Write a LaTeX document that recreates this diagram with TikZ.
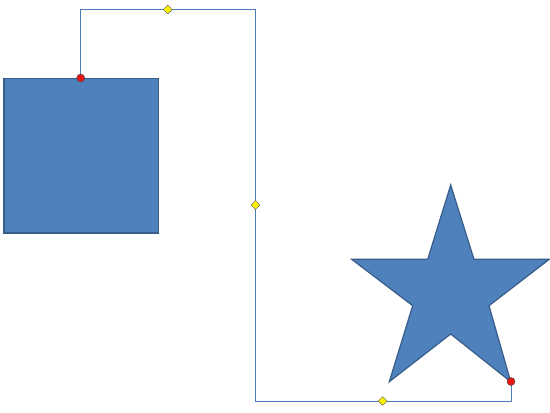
\documentclass[tikz,border=0pt]{standalone}
\usetikzlibrary{shapes.geometric}
\definecolor{shapefill}{HTML}{4F81BD}
\definecolor{shapeline}{HTML}{385D8A}
\definecolor{conn}{HTML}{4A7EBB}
\definecolor{dotred}{HTML}{E81818}
\begin{document}
\begin{tikzpicture}[x=1pt,y=-1pt,
  shp/.style={fill=shapefill,draw=shapeline,line width=1.2pt,line join=miter},
  connline/.style={draw=conn,line width=0.7pt},
  handle/.style={diamond,draw=gray!70!black,fill=yellow,minimum size=9pt,inner sep=0pt,line width=0.4pt},
  endpt/.style={circle,draw=gray!50!black,fill=dotred,minimum size=8pt,inner sep=0pt,line width=0.4pt}]
\useasboundingbox (0,0) rectangle (550,413);
% square
\path[shp] (4,78.3) rectangle (158.5,233);
% star
\path[shp] (450.7,185) -- (474,259.3) -- (549.3,259.3) -- (489,305.7) -- (510.7,381.7)
  -- (450.7,334) -- (389.3,381.7) -- (412.7,305.7) -- (351.7,259.3) -- (427.7,259.3) -- cycle;
% connector points
\coordinate (s) at (80.7,78);
\coordinate (c1) at (80.7,9.5);
\coordinate (c2) at (255.5,9.5);
\coordinate (c3) at (255.5,401);
\coordinate (c4) at (511,401);
\coordinate (e) at (511,381.5);
\draw[connline] (s) -- (c1) -- (c2) -- (c3) -- (c4) -- (e);
\node[handle] (h1) at (167.8,9.5) {};
\node[handle] (h2) at (255.5,205) {};
\node[handle] (h3) at (382.7,401) {};
\node[endpt] (p1) at (s) {};
\node[endpt] (p2) at (e) {};
\end{tikzpicture}
\end{document}
